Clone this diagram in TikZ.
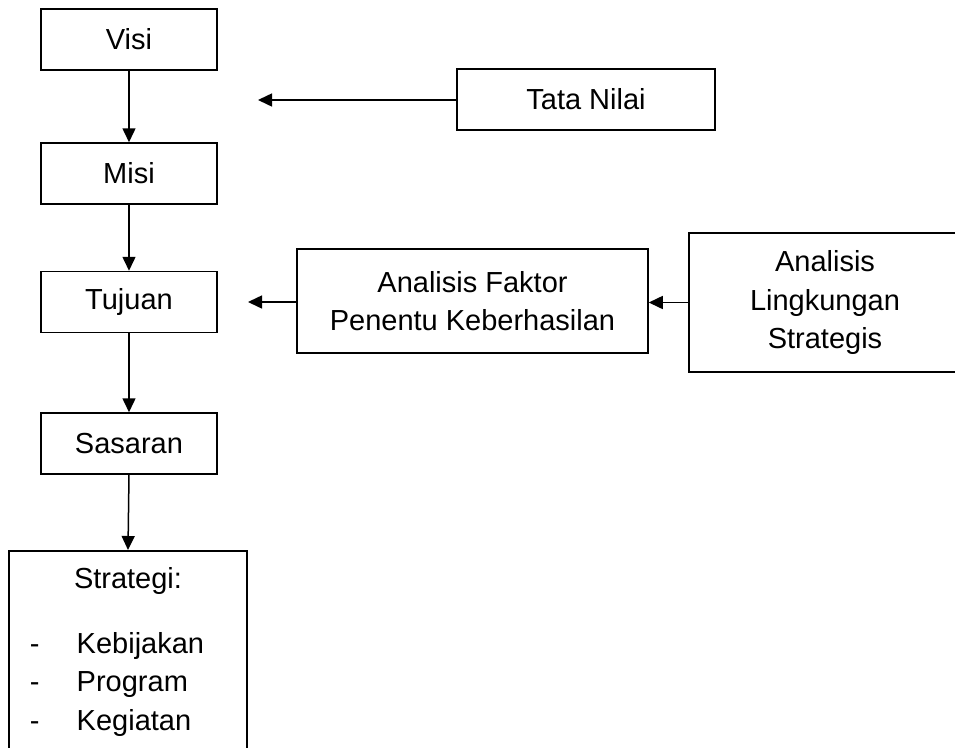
\documentclass[tikz,border=0pt]{standalone}
\usepackage{fontspec}
\setmainfont{Liberation Sans}
\usetikzlibrary{arrows.meta}

\begin{document}
\begin{tikzpicture}[x=1pt, y=-1pt, line width=1.5pt,
    text_node/.style={inner sep=0pt, font=\fontsize{29}{38.5}\selectfont},
    box_node/.style={draw, text_node, align=center, minimum width=176pt, minimum height=61pt},
    arrow_line/.style={-{Triangle[length=14pt,width=13pt]}}]

    \useasboundingbox (0, 0) rectangle (955, 747);
    \clip (0, 0) rectangle (955, 747);

    \node[box_node] (visi) at (129, 39.5) {Visi};
    \node[box_node] (misi) at (129, 173.5) {Misi};
    \node[box_node] (tujuan) at (129, 302) {Tujuan};
    \node[box_node] (sasaran) at (129, 443.5) {Sasaran};
    \node[draw, minimum width=238pt, minimum height=220pt, anchor=north] (strategi) at (128, 550) {};
    \node[text_node, anchor=base] (strategi_title) at (128, 588) {Strategi:};
    \foreach \txt [count=\i] in {Kebijakan, Program, Kegiatan}
        \node[text_node, anchor=base west] (item\i) at (29, {614.5 + 38.5*\i}) {\makebox[47pt][l]{-}\txt};

    \node[box_node, minimum width=258pt] (tata) at (586, 99.5) {Tata Nilai};
    \node[box_node, minimum width=351pt, minimum height=104pt] (faktor) at (472.5, 301) {Analisis Faktor\\Penentu Keberhasilan};
    \node[box_node, minimum width=272pt, minimum height=139pt] (lingkungan) at (825, 302.5) {Analisis\\Lingkungan\\Strategis};

    \coordinate (tata_end) at (258, 100);
    \coordinate (faktor_end) at (248, 302);

    \draw[arrow_line] (visi) -- (misi);
    \draw[arrow_line] (misi) -- (tujuan);
    \draw[arrow_line] (tujuan) -- (sasaran);
    \draw[arrow_line] (sasaran.south) -- (strategi.north);
    \draw[arrow_line] (tata.west |- tata_end) -- (tata_end);
    \draw[arrow_line] (faktor.west |- faktor_end) -- (faktor_end);
    \draw[arrow_line] (lingkungan.west) -- (faktor.east |- lingkungan.west);
\end{tikzpicture}
\end{document}
